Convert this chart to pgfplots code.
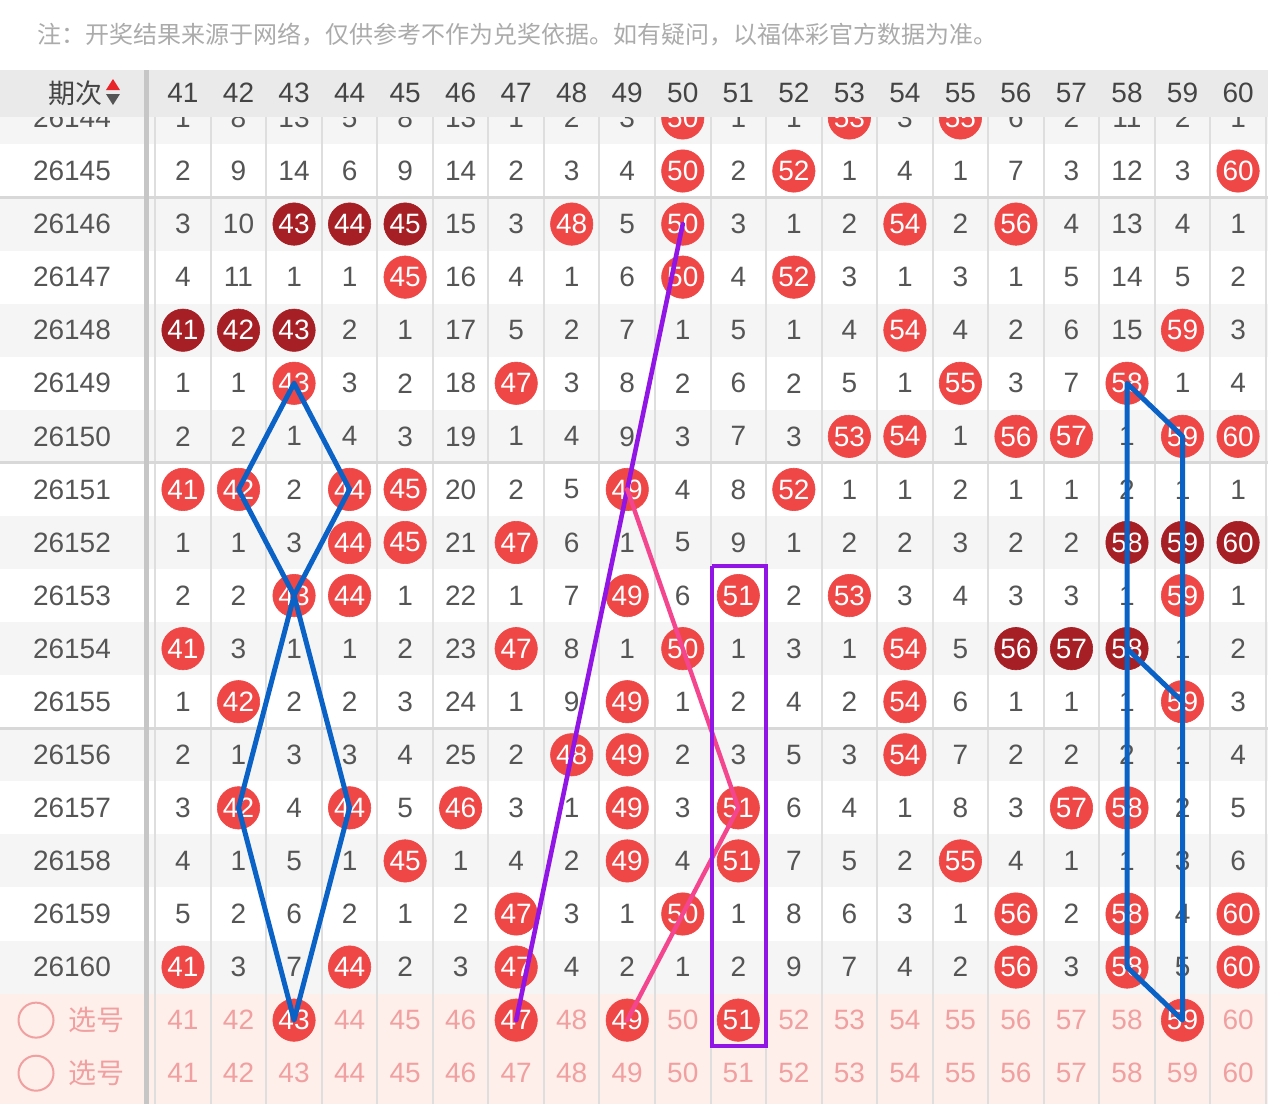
\documentclass[border=0pt]{standalone}
\usepackage{fontspec}
\setmainfont{Liberation Sans}
\newfontfamily\cjk{Noto Sans CJK SC}
\usepackage{pgfplots}
\pgfplotsset{compat=1.18}
\definecolor{numgray}{HTML}{555555}
\definecolor{headgray}{HTML}{444444}
\definecolor{notegray}{HTML}{ABABAB}
\definecolor{bggray}{HTML}{F5F5F5}
\definecolor{headbg}{HTML}{EAEAEA}
\definecolor{pinkbg}{HTML}{FEEFEA}
\definecolor{gridc}{HTML}{DEDEDE}
\definecolor{groupc}{HTML}{D8D8D8}
\definecolor{sepc}{HTML}{C6C6C6}
\definecolor{ballred}{HTML}{EF4646}
\definecolor{balldark}{HTML}{A51F24}
\definecolor{pinktxt}{HTML}{F0A0A0}
\definecolor{lblue}{HTML}{0A62C6}
\definecolor{lpurple}{HTML}{9116E6}
\definecolor{lpink}{HTML}{F4468E}
\definecolor{trired}{HTML}{E8262A}
\newcommand\numfont{\fontsize{14pt}{14pt}\selectfont}
\pgfplotsset{
  frame/.style={scale only axis, width=634pt, height=552pt,
    xmin=37.7045, xmax=60.539, ymin=-2.2222, ymax=18.5805, y dir=reverse,
    axis lines=none, ticks=none, clip=false, at={(0pt,0pt)}, anchor=south west},
  txt/.style={only marks, mark=none, point meta=explicit symbolic, nodes near coords, nodes near coords align=center,
    every node near coord/.append style={font=\numfont, text=#1, anchor=center}},
  ball/.style={only marks, mark=*, mark size=10.6pt, mark options={draw=#1, fill=#1, line width=0.3pt}, point meta=explicit symbolic,
    nodes near coords, nodes near coords align=center,
    every node near coord/.append style={font=\numfont, text=white, anchor=center}},
}
\begin{document}
\begin{tikzpicture}
\begin{axis}[frame, name=ax]
% backgrounds
\fill[white] (axis cs:37.7045,-2.2222) rectangle (axis cs:60.539,18.5805);
\pgfplotsinvokeforeach{0,2,4,6,8,10,12,14,16}{
  \fill[bggray] (axis cs:37.7045,#1-0.5) rectangle (axis cs:60.539,#1+0.5);
}
\fill[pinkbg] (axis cs:37.7045,16.5) rectangle (axis cs:60.539,18.5805);
% grid
\pgfplotsinvokeforeach{40,...,60}{
  \draw[gridc, line width=1pt] (axis cs:#1+0.5,-0.5) -- (axis cs:#1+0.5,18.5805);
}
\pgfplotsinvokeforeach{1.5,6.5,11.5}{
  \draw[groupc, line width=1.5pt] (axis cs:37.7045,#1) -- (axis cs:60.539,#1);
}
% period labels
\addplot[txt=numgray] table[meta=t, row sep=\\]{x y t\\
39 0 26144\\ 39 1 26145\\ 39 2 26146\\ 39 3 26147\\ 39 4 26148\\ 39 5 26149\\ 39 6 26150\\ 39 7 26151\\ 39 8 26152\\
39 9 26153\\ 39 10 26154\\ 39 11 26155\\ 39 12 26156\\ 39 13 26157\\ 39 14 26158\\ 39 15 26159\\ 39 16 26160\\};
\addplot[only marks, mark=o, mark size=8.75pt, mark options={draw=pinktxt, line width=1pt}] coordinates {(38.353,17) (38.353,18)};
\node[font=\cjk\fontsize{14pt}{14pt}\selectfont, text=pinktxt] at (axis cs:39.44,17) {选号};
\node[font=\cjk\fontsize{14pt}{14pt}\selectfont, text=pinktxt] at (axis cs:39.44,18) {选号};
% miss counts
\addplot[txt=numgray] table[meta=t, row sep=\\]{x y t\\
41 0 1\\ 42 0 8\\ 43 0 13\\ 44 0 5\\ 45 0 8\\ 46 0 13\\ 47 0 1\\ 48 0 2\\ 49 0 3\\ 51 0 1\\ 52 0 1\\ 54 0 3\\ 56 0 6\\ 57 0 2\\ 58 0 11\\ 59 0 2\\ 60 0 1\\
41 1 2\\ 42 1 9\\ 43 1 14\\ 44 1 6\\ 45 1 9\\ 46 1 14\\ 47 1 2\\ 48 1 3\\ 49 1 4\\ 51 1 2\\ 53 1 1\\ 54 1 4\\ 55 1 1\\ 56 1 7\\ 57 1 3\\ 58 1 12\\ 59 1 3\\
41 2 3\\ 42 2 10\\ 46 2 15\\ 47 2 3\\ 49 2 5\\ 51 2 3\\ 52 2 1\\ 53 2 2\\ 55 2 2\\ 57 2 4\\ 58 2 13\\ 59 2 4\\ 60 2 1\\
41 3 4\\ 42 3 11\\ 43 3 1\\ 44 3 1\\ 46 3 16\\ 47 3 4\\ 48 3 1\\ 49 3 6\\ 51 3 4\\ 53 3 3\\ 54 3 1\\ 55 3 3\\ 56 3 1\\ 57 3 5\\ 58 3 14\\ 59 3 5\\ 60 3 2\\
44 4 2\\ 45 4 1\\ 46 4 17\\ 47 4 5\\ 48 4 2\\ 49 4 7\\ 50 4 1\\ 51 4 5\\ 52 4 1\\ 53 4 4\\ 55 4 4\\ 56 4 2\\ 57 4 6\\ 58 4 15\\ 60 4 3\\
41 5 1\\ 42 5 1\\ 44 5 3\\ 45 5 2\\ 46 5 18\\ 48 5 3\\ 49 5 8\\ 50 5 2\\ 51 5 6\\ 52 5 2\\ 53 5 5\\ 54 5 1\\ 56 5 3\\ 57 5 7\\ 59 5 1\\ 60 5 4\\
41 6 2\\ 42 6 2\\ 43 6 1\\ 44 6 4\\ 45 6 3\\ 46 6 19\\ 47 6 1\\ 48 6 4\\ 49 6 9\\ 50 6 3\\ 51 6 7\\ 52 6 3\\ 55 6 1\\ 58 6 1\\
43 7 2\\ 46 7 20\\ 47 7 2\\ 48 7 5\\ 50 7 4\\ 51 7 8\\ 53 7 1\\ 54 7 1\\ 55 7 2\\ 56 7 1\\ 57 7 1\\ 58 7 2\\ 59 7 1\\ 60 7 1\\
41 8 1\\ 42 8 1\\ 43 8 3\\ 46 8 21\\ 48 8 6\\ 49 8 1\\ 50 8 5\\ 51 8 9\\ 52 8 1\\ 53 8 2\\ 54 8 2\\ 55 8 3\\ 56 8 2\\ 57 8 2\\
41 9 2\\ 42 9 2\\ 45 9 1\\ 46 9 22\\ 47 9 1\\ 48 9 7\\ 50 9 6\\ 52 9 2\\ 54 9 3\\ 55 9 4\\ 56 9 3\\ 57 9 3\\ 58 9 1\\ 60 9 1\\
42 10 3\\ 43 10 1\\ 44 10 1\\ 45 10 2\\ 46 10 23\\ 48 10 8\\ 49 10 1\\ 51 10 1\\ 52 10 3\\ 53 10 1\\ 55 10 5\\ 59 10 1\\ 60 10 2\\
41 11 1\\ 43 11 2\\ 44 11 2\\ 45 11 3\\ 46 11 24\\ 47 11 1\\ 48 11 9\\ 50 11 1\\ 51 11 2\\ 52 11 4\\ 53 11 2\\ 55 11 6\\ 56 11 1\\ 57 11 1\\ 58 11 1\\ 60 11 3\\
41 12 2\\ 42 12 1\\ 43 12 3\\ 44 12 3\\ 45 12 4\\ 46 12 25\\ 47 12 2\\ 50 12 2\\ 51 12 3\\ 52 12 5\\ 53 12 3\\ 55 12 7\\ 56 12 2\\ 57 12 2\\ 58 12 2\\ 59 12 1\\ 60 12 4\\
41 13 3\\ 43 13 4\\ 45 13 5\\ 47 13 3\\ 48 13 1\\ 50 13 3\\ 52 13 6\\ 53 13 4\\ 54 13 1\\ 55 13 8\\ 56 13 3\\ 59 13 2\\ 60 13 5\\
41 14 4\\ 42 14 1\\ 43 14 5\\ 44 14 1\\ 46 14 1\\ 47 14 4\\ 48 14 2\\ 50 14 4\\ 52 14 7\\ 53 14 5\\ 54 14 2\\ 56 14 4\\ 57 14 1\\ 58 14 1\\ 59 14 3\\ 60 14 6\\
41 15 5\\ 42 15 2\\ 43 15 6\\ 44 15 2\\ 45 15 1\\ 46 15 2\\ 48 15 3\\ 49 15 1\\ 51 15 1\\ 52 15 8\\ 53 15 6\\ 54 15 3\\ 55 15 1\\ 57 15 2\\ 59 15 4\\
42 16 3\\ 43 16 7\\ 45 16 2\\ 46 16 3\\ 48 16 4\\ 49 16 2\\ 50 16 1\\ 51 16 2\\ 52 16 9\\ 53 16 7\\ 54 16 4\\ 55 16 2\\ 57 16 3\\ 59 16 5\\};
% pick rows (pink numbers)
\addplot[txt=pinktxt] table[meta=t, row sep=\\]{x y t\\
41 17 41\\ 42 17 42\\ 44 17 44\\ 45 17 45\\ 46 17 46\\ 48 17 48\\ 50 17 50\\ 52 17 52\\ 53 17 53\\ 54 17 54\\ 55 17 55\\ 56 17 56\\ 57 17 57\\ 58 17 58\\ 60 17 60\\
41 18 41\\ 42 18 42\\ 43 18 43\\ 44 18 44\\ 45 18 45\\ 46 18 46\\ 47 18 47\\ 48 18 48\\ 49 18 49\\ 50 18 50\\ 51 18 51\\ 52 18 52\\ 53 18 53\\ 54 18 54\\ 55 18 55\\ 56 18 56\\ 57 18 57\\ 58 18 58\\ 59 18 59\\ 60 18 60\\};
% drawn numbers (red balls)
\addplot[ball=ballred] table[meta=t, row sep=\\]{x y t\\
50 0 50\\ 53 0 53\\ 55 0 55\\
50 1 50\\ 52 1 52\\ 60 1 60\\
48 2 48\\ 50 2 50\\ 54 2 54\\ 56 2 56\\
45 3 45\\ 50 3 50\\ 52 3 52\\
54 4 54\\ 59 4 59\\
43 5 43\\ 47 5 47\\ 55 5 55\\ 58 5 58\\
53 6 53\\ 54 6 54\\ 56 6 56\\ 57 6 57\\ 59 6 59\\ 60 6 60\\
41 7 41\\ 42 7 42\\ 44 7 44\\ 45 7 45\\ 49 7 49\\ 52 7 52\\
44 8 44\\ 45 8 45\\ 47 8 47\\
43 9 43\\ 44 9 44\\ 49 9 49\\ 51 9 51\\ 53 9 53\\ 59 9 59\\
41 10 41\\ 47 10 47\\ 50 10 50\\ 54 10 54\\
42 11 42\\ 49 11 49\\ 54 11 54\\ 59 11 59\\
48 12 48\\ 49 12 49\\ 54 12 54\\
42 13 42\\ 44 13 44\\ 46 13 46\\ 49 13 49\\ 51 13 51\\ 57 13 57\\ 58 13 58\\
45 14 45\\ 49 14 49\\ 51 14 51\\ 55 14 55\\
47 15 47\\ 50 15 50\\ 56 15 56\\ 58 15 58\\ 60 15 60\\
41 16 41\\ 44 16 44\\ 47 16 47\\ 56 16 56\\ 58 16 58\\ 60 16 60\\
43 17 43\\ 47 17 47\\ 49 17 49\\ 51 17 51\\ 59 17 59\\};
% consecutive numbers (dark balls)
\addplot[ball=balldark] table[meta=t, row sep=\\]{x y t\\
43 2 43\\ 44 2 44\\ 45 2 45\\
41 4 41\\ 42 4 42\\ 43 4 43\\
58 8 58\\ 59 8 59\\ 60 8 60\\
56 10 56\\ 57 10 57\\ 58 10 58\\};
\end{axis}
% overlay: trend lines, header, note
\begin{axis}[frame]
\addplot[lblue, line width=2.5pt, line join=round, line cap=round, mark=none] coordinates {
(43,5) (42,7) (43,9) (44,13) (43,17) (42,13) (43,9) (44,7) (43,5)};
\addplot[lpurple, line width=2.3pt, line cap=round, mark=none] coordinates {(47,17) (50,2)};
\addplot[lpink, line width=2.2pt, line join=round, line cap=round, mark=none] coordinates {(49,7) (51,13) (49,17)};
\addplot[lblue, line width=2.5pt, line join=round, line cap=round, mark=none] coordinates {
(59,6) (58,5) (58,16) (59,17) (59,6)};
\addplot[lblue, line width=2.5pt, line cap=round, mark=none] coordinates {(58,10) (59,11)};
\addplot[lpurple, line width=2pt, mark=none] coordinates {(50.52,8.45) (51.49,8.45) (51.49,17.49) (50.52,17.49) (50.52,8.45)};
% header
\fill[white] (axis cs:37.7045,-2.2222) rectangle (axis cs:60.539,-0.903);
\fill[headbg] (axis cs:37.7045,-0.903) rectangle (axis cs:60.539,-0.0175);
\node[font=\cjk\fontsize{13.5pt}{13.5pt}\selectfont, text=headgray, anchor=east, inner sep=0pt] at (axis cs:39.56,-0.47) {期次};
\fill[trired] (axis cs:39.739,-0.7336) -- (axis cs:39.865,-0.5263) -- (axis cs:39.613,-0.5263) -- cycle;
\fill[numgray] (axis cs:39.613,-0.4510) -- (axis cs:39.865,-0.4510) -- (axis cs:39.739,-0.2436) -- cycle;
\addplot[txt=headgray] coordinates {
(41,-0.47) [41] (42,-0.47) [42] (43,-0.47) [43] (44,-0.47) [44] (45,-0.47) [45] (46,-0.47) [46] (47,-0.47) [47]
(48,-0.47) [48] (49,-0.47) [49] (50,-0.47) [50] (51,-0.47) [51] (52,-0.47) [52] (53,-0.47) [53] (54,-0.47) [54]
(55,-0.47) [55] (56,-0.47) [56] (57,-0.47) [57] (58,-0.47) [58] (59,-0.47) [59] (60,-0.47) [60]};
\draw[sepc, line width=2.5pt] (axis cs:40.334,-0.903) -- (axis cs:40.334,18.5805);
% note
\node[anchor=west, font=\cjk\fontsize{12pt}{12pt}\selectfont, text=notegray, inner sep=0pt] at (axis cs:38.371,-1.5627)
  {注：开奖结果来源于网络，仅供参考不作为兑奖依据。如有疑问，以福体彩官方数据为准。};
\end{axis}
\pgfresetboundingbox
\useasboundingbox (ax.south west) rectangle (ax.north east);
\end{tikzpicture}
\end{document}
